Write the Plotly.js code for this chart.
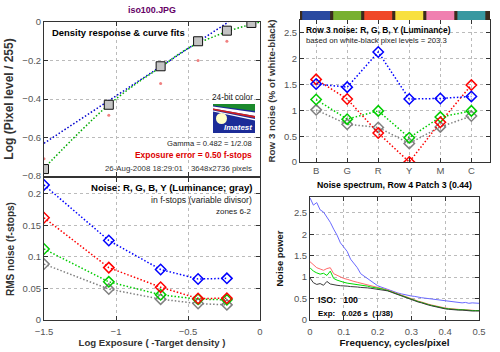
<!DOCTYPE html>
<html><head><meta charset="utf-8">
<script src="https://cdn.plot.ly/plotly-3.0.1.min.js"></script>
<style>html,body{margin:0;padding:0;background:#fff}#c{width:500px;height:352px}</style>
</head><body><div id="c"></div>
<script>
// ---------- data ----------
const patchX = [-1.5, -1.05, -0.69, -0.43, -0.23, -0.06];
const densityY = [-0.764, -0.43, -0.23, -0.10, -0.045, -0.005];
const idealX = [-1.5, -1.05, -0.69, -0.43, -0.23];
const idealY = [-0.71, -0.485, -0.32, -0.20, -0.10];
const gammaFitX = [-1.5, -0.22];
const gammaFitY = [-0.63, 0];
const curveFitX = [-1.5, -1.25, -1.05, -0.85, -0.69, -0.55, -0.43, -0.3, -0.23, -0.1, 0];
const curveFitY = [-0.76, -0.57, -0.43, -0.315, -0.235, -0.16, -0.11, -0.07, -0.05, -0.02, 0];

const cats = ['B', 'G', 'R', 'Y', 'M', 'C'];
const rowB = [1.51, 1.45, 2.13, 1.22, 1.23, 1.27];
const rowR = [1.60, 1.22, 0.56, 0.00, 0.77, 1.49];
const rowG = [1.21, 0.83, 0.99, 0.47, 0.87, 0.99];
const rowY = [1.01, 0.73, 0.67, 0.36, 0.68, 0.89];
const patchColors = ['#2a4aa0', '#78b030', '#f04828', '#f8e040', '#f080b0', '#3898a0'];

const zoneX = [-1.5, -1.05, -0.69, -0.43, -0.23];
const noiseB = [0.214, 0.126, 0.080, 0.065, 0.066];
const noiseR = [0.162, 0.083, 0.052, 0.034, 0.0345];
const noiseG = [0.1125, 0.0605, 0.040, 0.033, 0.032];
const noiseY = [0.0886, 0.049, 0.033, 0.026, 0.024];

const freq = [0,0.01,0.02,0.03,0.04,0.05,0.06,0.07,0.08,0.09,0.10,0.11,0.12,0.13,0.14,0.15,0.16,0.17,0.18,0.19,0.20,0.21,0.22,0.23,0.24,0.25,0.26,0.27,0.28,0.29,0.30,0.31,0.32,0.33,0.34,0.35,0.36,0.37,0.38,0.39,0.40,0.41,0.42,0.43,0.44,0.45,0.46,0.47,0.48,0.49,0.50];
const specB = [2.85,2.68,2.74,2.57,2.52,2.40,2.28,2.12,1.98,1.80,1.70,1.60,1.42,1.33,1.22,1.08,1.02,0.96,0.90,0.86,0.80,0.77,0.74,0.71,0.68,0.66,0.63,0.61,0.59,0.57,0.56,0.55,0.53,0.52,0.51,0.50,0.49,0.47,0.46,0.45,0.44,0.43,0.43,0.42,0.41,0.40,0.41,0.39,0.40,0.39,0.39];
const specR = [1.36,1.28,1.22,1.19,1.16,1.20,1.22,1.08,1.04,1.00,0.97,0.95,0.92,0.90,0.88,0.86,0.85,0.82,0.80,0.78,0.76,0.75,0.72,0.70,0.67,0.64,0.61,0.58,0.55,0.52,0.50,0.47,0.44,0.42,0.39,0.37,0.35,0.33,0.31,0.29,0.28,0.27,0.26,0.25,0.25,0.24,0.24,0.23,0.23,0.22,0.22];
const specG = [1.22,1.14,1.10,1.07,1.09,1.04,1.14,0.97,0.93,0.90,0.88,0.86,0.85,0.84,0.83,0.81,0.80,0.79,0.77,0.76,0.74,0.73,0.71,0.69,0.66,0.63,0.60,0.57,0.54,0.51,0.49,0.46,0.43,0.41,0.38,0.36,0.34,0.32,0.30,0.28,0.27,0.26,0.25,0.25,0.24,0.24,0.23,0.23,0.22,0.22,0.22];
const specY = [0.98,0.87,0.83,0.85,0.81,0.90,0.84,0.82,0.81,0.80,0.80,0.79,0.78,0.78,0.77,0.76,0.76,0.75,0.74,0.73,0.72,0.71,0.70,0.68,0.65,0.62,0.59,0.56,0.53,0.50,0.48,0.45,0.42,0.40,0.37,0.35,0.33,0.31,0.29,0.27,0.26,0.25,0.24,0.24,0.23,0.23,0.22,0.22,0.21,0.21,0.21];

// ---------- font fitting ----------
const cv = document.createElement('canvas').getContext('2d');
function measure(text, bold, fam) { cv.font = (bold ? 'bold ' : '') + '40px ' + fam; return cv.measureText(text).width; }
const probe = 'Density response 0123456789';
const hasNarrow = Math.abs(measure(probe, false, "'Liberation Sans Narrow', monospace") - measure(probe, false, 'monospace')) > 1;
const FONT = hasNarrow ? 'Liberation Sans Narrow, Liberation Sans, Arial, sans-serif' : 'Liberation Sans, Arial, sans-serif';
const FAM1 = hasNarrow ? "'Liberation Sans Narrow'" : "'Liberation Sans'";
function fit(text, bold, target, maxSize) {
  const s = 40 * target / measure(text, bold, FAM1);
  return Math.min(s, maxSize || 13);
}

// ---------- helpers ----------
const W = 500, H = 352;
const px = x => x / W, py = y => 1 - y / H;
function ann(text, bold, target, x, y, o) {
  o = o || {};
  const size = fit(text, bold, target, o.max);
  let t = text.replace(/&/g, '&amp;');
  if (bold) t = '<b>' + t + '</b>';
  if (o.italic) t = '<i>' + t + '</i>';
  return {text: t, x: px(x), y: py(y), xref: 'paper', yref: 'paper', showarrow: false,
    xanchor: o.xa || 'left', yanchor: 'middle', borderpad: 0,
    font: {family: FONT, size: size, color: o.color || '#000'}};
}
const tickSize = Math.max(fit('0.15', false, 17, 11), 9.5);
function axisBase(extra) {
  return Object.assign({showline: true, linecolor: '#333', linewidth: 1, mirror: 'ticks', ticks: 'inside', ticklen: 4,
    tickcolor: '#333', showgrid: true, gridcolor: '#bbb', griddash: 'dot', zeroline: false,
    tickfont: {family: FONT, size: tickSize, color: '#555'}}, extra);
}
function atitle(text, target, color, standoff) {
  return {text: '<b>' + text + '</b>', standoff: standoff,
    font: {family: FONT, size: fit(text, true, target, 12), color: color || '#333'}};
}
const dotLine = c => ({color: c, width: 1.5, dash: '1.5px,2px'});
const diamond = c => ({symbol: 'diamond-open', size: 8, color: c, line: {color: c, width: 1.5}});

const traces = [];
traces.push({x: gammaFitX, y: gammaFitY, mode: 'lines', line: dotLine('#0000cc'), xaxis: 'x', yaxis: 'y'});
traces.push({x: curveFitX, y: curveFitY, mode: 'lines', line: Object.assign(dotLine('#00aa00'), {shape: 'spline'}), xaxis: 'x', yaxis: 'y'});
traces.push({x: idealX, y: idealY, mode: 'markers', marker: {symbol: 'circle', size: 3, color: '#f08080'}, xaxis: 'x', yaxis: 'y'});
traces.push({x: patchX, y: densityY, mode: 'markers', marker: {symbol: 'square', size: 9, color: '#c4c4c4', line: {color: '#111', width: 1}}, xaxis: 'x', yaxis: 'y'});
[[rowY, '#808080'], [rowG, '#00cc00'], [rowR, '#ff0000'], [rowB, '#0000ff']].forEach(([v, c]) => {
  traces.push({x: cats, y: v, mode: 'lines+markers', line: dotLine(c), marker: diamond(c), xaxis: 'x2', yaxis: 'y2'});
});
[[noiseY, '#808080'], [noiseG, '#00cc00'], [noiseR, '#ff0000'], [noiseB, '#0000ff']].forEach(([v, c]) => {
  traces.push({x: zoneX, y: v, mode: 'lines+markers', line: dotLine(c), marker: diamond(c), xaxis: 'x3', yaxis: 'y3'});
});
[[specB, '#6a6aff'], [specR, '#ff6a6a'], [specG, '#00dd00'], [specY, '#3a3a3a']].forEach(([v, c]) => {
  traces.push({x: freq, y: v, mode: 'lines', line: {color: c, width: 1}, xaxis: 'x4', yaxis: 'y4'});
});

const layout = {
  width: W, height: H, margin: {l: 0, r: 0, t: 0, b: 0}, showlegend: false,
  paper_bgcolor: '#fff', plot_bgcolor: '#fff',
  xaxis: axisBase({domain: [px(44), px(260)], range: [-1.5, 0], dtick: 0.5, showticklabels: false, anchor: 'y'}),
  yaxis: axisBase({domain: [py(176), py(22)], range: [-0.8, 0], dtick: 0.2, anchor: 'x',
    title: atitle('Log (Pixel level / 255)', 144, '#333', 6)}),
  xaxis2: axisBase({domain: [px(300), px(490)], type: 'category', range: [-0.52, 5.6], anchor: 'y2'}),
  yaxis2: axisBase({domain: [py(162), py(20)], range: [0, 2.75], dtick: 0.5, anchor: 'x2',
    title: atitle('Row 3 noise (% of white-black)', 143, '#333', 6)}),
  xaxis3: axisBase({domain: [px(44), px(260)], range: [-1.5, 0], dtick: 0.5, anchor: 'y3', ticklabelstandoff: 3,
    title: atitle('Log Exposure ( -Target density )', 147, '#333', 2)}),
  yaxis3: axisBase({domain: [py(320), py(178)], range: [0, 0.225], dtick: 0.05, anchor: 'x3',
    title: atitle('RMS noise (f-stops)', 94, '#333', 6)}),
  xaxis4: axisBase({domain: [px(310), px(479)], range: [0, 0.5], dtick: 0.1, anchor: 'y4', ticklabelstandoff: 3,
    title: atitle('Frequency, cycles/pixel', 110, '#111', 2)}),
  yaxis4: axisBase({domain: [py(320), py(197)], range: [0, 2.87], dtick: 0.5, anchor: 'x4',
    title: atitle('Noise power', 56, '#111', 8)}),
  annotations: [
    ann('iso100.JPG', true, 48, 152, 10, {xa: 'center', color: '#660066'}),
    ann('Density response & curve fits', true, 133, 51, 32),
    ann('24-bit color', false, 41, 254, 98, {xa: 'right', color: '#222'}),
    ann('Imatest', true, 28, 238, 127, {xa: 'center', color: '#fff', italic: true}),
    ann('Gamma = 0.482 = 1/2.08', false, 85, 253, 143, {xa: 'right', color: '#222'}),
    ann('Exposure error = 0.50 f-stops', true, 117, 253, 155, {xa: 'right', color: '#dd0000'}),
    ann('26-Aug-2008 18:29:01', false, 78, 104, 168, {color: '#333'}),
    ann('3648x2736 pixels', false, 61, 253, 168, {xa: 'right', color: '#333'}),
    ann('Row 3 noise: R, G, B, Y (Luminance)', true, 145, 305, 30),
    ann('based on white-black pixel levels = 203.3', false, 141, 305, 41, {color: '#222'}),
    ann('Noise: R, G, B, Y (Luminance; gray)', true, 162, 253, 187, {xa: 'right'}),
    ann('in f-stops (variable divisor)', false, 101, 253, 200, {xa: 'right', color: '#222'}),
    ann('zones 6-2', false, 35, 253, 211, {xa: 'right', color: '#222'}),
    ann('Noise spectrum, Row 4 Patch 3 (0.44)', true, 155, 394.5, 185, {xa: 'center'}),
    ann('ISO:\u00a0\u00a0\u00a0100', true, 40, 317, 300),
    ann('Exp:\u00a0\u00a0\u00a00.026 s\u00a0\u00a0(1/38)', true, 75, 317, 313)
  ],
  shapes: []
};

// colour patch strip above row-noise plot
layout.shapes.push({type: 'rect', xref: 'x2 domain', yref: 'paper', x0: 0, x1: 1, y0: py(20), y1: py(11), fillcolor: '#3b2a1c', line: {width: 0}});
cats.forEach((c, i) => {
  layout.shapes.push({type: 'rect', xref: 'x2', yref: 'paper', x0: i - 0.45, x1: i + 0.45, y0: py(20), y1: py(11),
    fillcolor: patchColors[i], line: {width: 0}});
});
// Imatest logo
const P = (x, y) => px(x).toFixed(4) + ',' + py(y).toFixed(4);
const poly = pts => 'M' + pts.map(p => P(p[0], p[1])).join('L') + 'Z';
layout.shapes.push({type: 'rect', xref: 'paper', yref: 'paper', x0: px(213), x1: px(255), y0: py(133), y1: py(104), fillcolor: '#1c2c98', line: {width: 0}, layer: 'above'});
layout.shapes.push({type: 'path', xref: 'paper', yref: 'paper', path: poly([[213, 104], [255, 104], [255, 111], [213, 105.5]]), fillcolor: '#1b8a2c', line: {width: 0}, layer: 'above'});
layout.shapes.push({type: 'path', xref: 'paper', yref: 'paper', path: poly([[213, 106.5], [255, 112.5], [255, 116], [213, 108.5]]), fillcolor: '#ffffff', line: {width: 0}, layer: 'above'});
layout.shapes.push({type: 'path', xref: 'paper', yref: 'paper', path: poly([[213, 108.5], [255, 116], [255, 118], [213, 110]]), fillcolor: '#d02020', line: {width: 0}, layer: 'above'});
layout.shapes.push({type: 'path', xref: 'paper', yref: 'paper', path: poly([[213, 110.5], [255, 119], [255, 120.5], [213, 111.5]]), fillcolor: '#ffffff', line: {width: 0}, layer: 'above'});
layout.shapes.push({type: 'circle', xref: 'paper', yref: 'paper', x0: px(216), x1: px(227), y0: py(124), y1: py(113), fillcolor: '#ffffc8', line: {width: 0}, layer: 'above'});

Plotly.newPlot('c', traces, layout, {staticPlot: true});
</script></body></html>
